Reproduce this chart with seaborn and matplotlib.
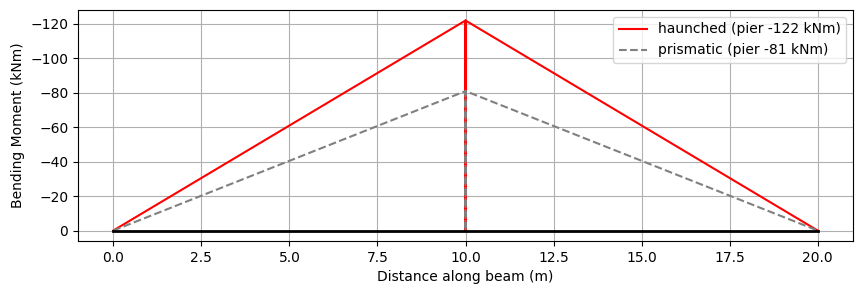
import matplotlib
matplotlib.use("Agg")
import matplotlib.pyplot as plt
import seaborn as sns
import pandas as pd

# moment diagram outline: span 1, drop at pier, span 2
x_pts = [0.0, 10.0, 10.0, 10.0, 20.0]
haunched_m = [0.0, -122.0, 0.0, -122.0, 0.0]
prismatic_m = [0.0, -81.0, 0.0, -81.0, 0.0]
beam_x = [0.0, 20.0]
beam_y = [0.0, 0.0]

df_h = pd.DataFrame({"x": x_pts, "M": haunched_m})
df_p = pd.DataFrame({"x": x_pts, "M": prismatic_m})

fig, ax = plt.subplots(figsize=(8.62, 2.94), dpi=100)

sns.lineplot(data=df_h, x="x", y="M", sort=False, estimator=None, color="red",
             label="haunched (pier -122 kNm)", ax=ax)
sns.lineplot(data=df_p, x="x", y="M", sort=False, estimator=None, color="gray",
             linestyle="--", label="prismatic (pier -81 kNm)", ax=ax)
ax.plot(beam_x, beam_y, color="black", linewidth=2)

ax.invert_yaxis()
ax.set_xlabel("Distance along beam (m)")
ax.set_ylabel("Bending Moment (kNm)")
ax.grid(True)
ax.legend(loc="upper right")

fig.subplots_adjust(left=0.0905, right=0.9896, top=0.966, bottom=0.180)
plt.savefig("out.png", dpi=100)
